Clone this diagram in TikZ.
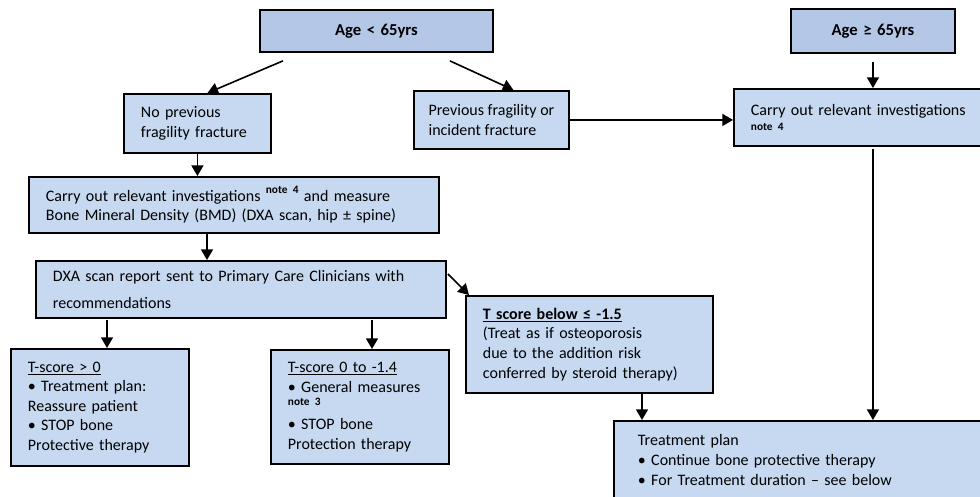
\documentclass[tikz,border=0pt]{standalone}
\usepackage{fontspec}
\setmainfont{Carlito}
\usetikzlibrary{arrows.meta,calc}
\definecolor{boxb}{HTML}{C6D9F1}
\definecolor{ageb}{HTML}{B4C7E7}
\newcommand{\notetxt}[1]{{\fontsize{8.5}{9}\selectfont\bfseries #1}}
\begin{document}
\begin{tikzpicture}[x=0.75pt,y=-0.75pt,
  box/.style={draw=black,line width=1.4pt,fill=boxb,inner xsep=12.75pt,inner ysep=1pt,align=left,anchor=north west,font=\fontsize{12}{14.7}\selectfont},
  agebox/.style={box,fill=ageb,align=center,font=\fontsize{12.5}{14}\selectfont\bfseries},
  arr/.style={-{Triangle[width=9pt,length=8pt]},line width=1.2pt}]
\useasboundingbox (0,0) rectangle (980,496);
\node[agebox,minimum width=233*0.75pt,minimum height=42*0.75pt,text width=199*0.75pt] (age) at (259,9) {Age < 65yrs};
\node[agebox,minimum width=164*0.75pt,minimum height=44*0.75pt,text width=130*0.75pt] (age65) at (790,8) {Age ≥ 65yrs};
\node[box,minimum width=147*0.75pt,minimum height=59*0.75pt,text width=113*0.75pt] (nofx) at (123,93) {No previous\\fragility fracture};
\node[box,inner xsep=4pt,minimum width=155*0.75pt,minimum height=58*0.75pt] (prev) at (413,90) {Previous fragility or\\incident fracture};
\node[box,minimum width=249*0.75pt,minimum height=57*0.75pt,text width=215*0.75pt] (carryR) at (733,88) {Carry out relevant investigations\\[-3.75pt]\notetxt{note 4}};
\node[box,minimum width=410*0.75pt,minimum height=56*0.75pt,text width=376*0.75pt] (carryL) at (28,176) {Carry out relevant investigations \raisebox{0.45em}{\notetxt{note 4}} and measure\\Bone Mineral Density (BMD) (DXA scan, hip ± spine)};
\node[box,minimum width=410*0.75pt,minimum height=57*0.75pt,text width=376*0.75pt] (dxa) at (35,260) {DXA scan report sent to Primary Care Clinicians with\\[6pt]recommendations};
\node[box,minimum width=178*0.75pt,minimum height=117*0.75pt,text width=144*0.75pt] (tgt) at (10,348) {\underline{T-score > 0}\\• Treatment plan:\\Reassure patient\\• STOP bone\\Protective therapy};
\node[box,minimum width=178*0.75pt,minimum height=114*0.75pt,text width=144*0.75pt] (t0) at (270,349) {\underline{T-score 0 to -1.4}\\• General measures\\[-4.8pt]\notetxt{note 3}\\[3.4pt]• STOP bone\\Protection therapy};
\node[box,minimum width=247*0.75pt,minimum height=97*0.75pt,text width=213*0.75pt] (tb) at (465,295) {\textbf{\underline{T score below ≤ -1.5}}\\(Treat as if osteoporosis\\due to the addition risk\\conferred by steroid therapy)};
\node[box,inner xsep=18pt,minimum width=369*0.75pt,minimum height=78*0.75pt,text width=240.75pt] (treat) at (613,420) {Treatment plan\\• Continue bone protective therapy\\• For Treatment duration – see below};
\draw[arr] ($(age.south west)+(24,8)$) -- ($(nofx.north)+(10,0)$);
\draw[arr] ($(age.south east)+(-44,8)$) -- ($(prev.north)+(22,0)$);
\draw[arr] ($(age65.south)+(0,8)$) -- (age65.south |- carryR.north);
\draw[arr] (prev.east) -- (prev.east -| carryR.west);
\draw[arr] (nofx.south) -- (nofx.south |- carryL.north);
\draw[arr] ($(carryL.south west)+(179,0)$) -- ($(dxa.north west)+(172,0)$);
\draw[arr] ($(dxa.south west)+(72,1)$) -- ($(tgt.north west)+(97,0)$);
\draw[arr] ($(dxa.south west)+(337,1)$) -- ($(t0.north west)+(102,0)$);
\draw[arr] ($(dxa.north east)+(1,14)$) -- ($(tb.north west)+(4,0)$);
\draw[arr] ($(tb.south west)+(177,0)$) -- ($(treat.north west)+(29,0)$);
\draw[arr] ($(age65.south |- carryR.south)+(0,2)$) -- (age65.south |- treat.north);
\end{tikzpicture}
\end{document}
